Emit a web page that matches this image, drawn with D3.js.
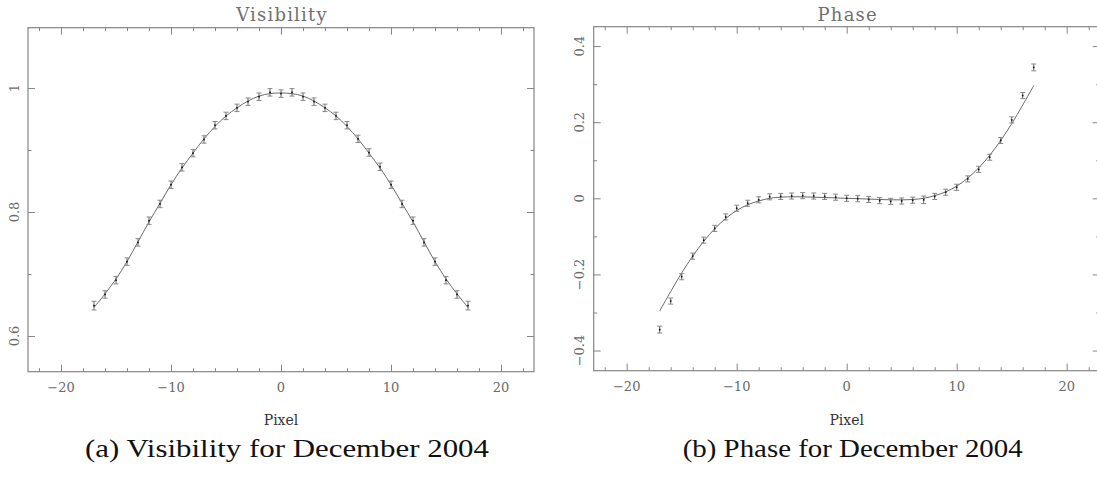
<!DOCTYPE html>
<html>
<head>
<meta charset="utf-8">
<script src="https://cdn.jsdelivr.net/npm/d3@7"></script>
<style>
  html, body { margin: 0; padding: 0; background: #fff; }
  svg { display: block; }
</style>
</head>
<body>
<svg id="chart" width="1097" height="480"></svg>
<script>
// ---------------- DATA ----------------
const pixels = [-17,-16,-15,-14,-13,-12,-11,-10,-9,-8,-7,-6,-5,-4,-3,-2,-1,0,1,2,3,4,5,6,7,8,9,10,11,12,13,14,15,16,17];

const visibility = [0.649,0.667,0.690,0.720,0.751,0.786,0.813,0.844,0.872,0.895,0.917,0.940,0.955,0.968,0.978,0.986,0.993,
                    0.991,0.993,0.986,0.978,0.968,0.955,0.940,0.918,0.896,0.873,0.844,0.813,0.786,0.751,0.720,0.690,0.667,0.649];
const visibilityErr = [0.007,0.006,0.006,0.006,0.006,0.006,0.006,0.006,0.006,0.006,0.006,0.006,0.006,0.006,0.006,0.006,0.006,
                       0.006,0.006,0.006,0.006,0.006,0.006,0.006,0.006,0.006,0.006,0.006,0.006,0.006,0.006,0.006,0.006,0.006,0.007];
const visibilityFit = [0.646,0.668,0.692,0.720,0.752,0.784,0.814,0.844,0.871,0.895,0.918,0.938,0.955,0.968,0.979,0.987,0.991,
                       0.992,0.991,0.987,0.979,0.968,0.955,0.938,0.918,0.895,0.871,0.844,0.814,0.784,0.752,0.720,0.692,0.668,0.646];

const phase = [-0.345,-0.270,-0.206,-0.152,-0.110,-0.079,-0.049,-0.026,-0.013,-0.004,0.004,0.005,0.006,0.007,0.006,0.005,0.003,
               0.000,-0.001,-0.003,-0.006,-0.008,-0.007,-0.005,-0.004,0.005,0.016,0.029,0.051,0.076,0.108,0.152,0.206,0.270,0.344];
const phaseErr = [0.009,0.008,0.008,0.008,0.008,0.008,0.008,0.008,0.008,0.008,0.008,0.008,0.008,0.008,0.008,0.008,0.008,
                  0.008,0.008,0.008,0.008,0.008,0.008,0.008,0.010,0.008,0.008,0.008,0.008,0.008,0.008,0.008,0.008,0.008,0.009];
const phaseFit = [-0.296,-0.245,-0.196,-0.152,-0.113,-0.080,-0.053,-0.032,-0.017,-0.007,0.000,0.003,0.004,0.004,0.003,0.002,0.001,
                  0.000,-0.001,-0.002,-0.003,-0.004,-0.004,-0.003,0.000,0.007,0.017,0.032,0.053,0.080,0.113,0.152,0.196,0.245,0.296];

const xMajor = [-20,-10,0,10,20];
const xMinor = [-22,-18,-16,-14,-12,-8,-6,-4,-2,2,4,6,8,12,14,16,18,22];
const visMajor = [0.6,0.8,1];
const visMinor = [0.7,0.9];
const phaseMajor = [-0.4,-0.2,0,0.2,0.4];
const phaseMinor = [-0.3,-0.1,0.1,0.3];

const titles = ["Visibility","Phase"];
const xLabel = "Pixel";
const captions = ["(a)  Visibility for December 2004","(b)  Phase for December 2004"];

// ---------------- DRAW ----------------
const svg = d3.select("#chart");
const fmt = v => {
  const s = (Math.abs(v) < 1e-9) ? "0" : String(+v.toFixed(2));
  return s.replace("-", "\u2212");
};

const panels = [
  { x0: 28, x1: 534, y0: 27.7, y1: 371.7, yDom: [0.5424, 1.0973],
    vals: visibility, err: visibilityErr, fit: visibilityFit,
    major: visMajor, minor: visMinor, yLabX: 14, title: titles[0], caption: captions[0], capW: 404 },
  { x0: 593.7, x1: 1099.7, y0: 26.7, y1: 370.7, yDom: [-0.453, 0.451],
    vals: phase, err: phaseErr, fit: phaseFit,
    major: phaseMajor, minor: phaseMinor, yLabX: 579, title: titles[1], caption: captions[1], capW: 340 }
];

const frameCol = "#858585";
const labCol = "#6a6a6a";

panels.forEach(p => {
  const x = d3.scaleLinear().domain([-23, 23]).range([p.x0, p.x1]);
  const y = d3.scaleLinear().domain(p.yDom).range([p.y1, p.y0]);
  const g = svg.append("g");

  const mk = (axisFn, scale, vals, size, tr) => {
    const a = g.append("g").attr("transform", tr)
      .call(axisFn(scale).tickValues(vals).tickSize(size).tickFormat(""));
    a.select(".domain").remove();
    a.selectAll("line").attr("stroke", frameCol).attr("stroke-width", 1);
    a.selectAll("text").remove();
  };
  mk(d3.axisBottom, x, xMajor, -7, `translate(0,${p.y1})`);
  mk(d3.axisBottom, x, xMinor, -3.5, `translate(0,${p.y1})`);
  mk(d3.axisTop, x, xMajor, -7, `translate(0,${p.y0})`);
  mk(d3.axisTop, x, xMinor, -3.5, `translate(0,${p.y0})`);
  mk(d3.axisLeft, y, p.major, -7, `translate(${p.x0},0)`);
  mk(d3.axisLeft, y, p.minor, -3.5, `translate(${p.x0},0)`);
  mk(d3.axisRight, y, p.major, -7, `translate(${p.x1},0)`);
  mk(d3.axisRight, y, p.minor, -3.5, `translate(${p.x1},0)`);

  g.append("rect")
    .attr("x", p.x0).attr("y", p.y0)
    .attr("width", p.x1 - p.x0).attr("height", p.y1 - p.y0)
    .attr("fill", "none").attr("stroke", frameCol).attr("stroke-width", 1.2);

  g.selectAll(".xl").data(xMajor).enter().append("text")
    .attr("x", d => x(d)).attr("y", p.y1 + 20)
    .attr("text-anchor", "middle")
    .attr("font-family", "DejaVu Serif").attr("font-size", 13)
    .attr("fill", labCol)
    .text(fmt);

  g.selectAll(".yl").data(p.major).enter().append("text")
    .attr("transform", d => `translate(${p.yLabX + 5},${y(d)}) rotate(-90)`)
    .attr("text-anchor", "middle")
    .attr("font-family", "DejaVu Serif").attr("font-size", 13)
    .attr("fill", labCol)
    .text(fmt);

  g.append("text")
    .attr("x", x(0) + 1).attr("y", 21)
    .attr("text-anchor", "middle")
    .attr("font-family", "DejaVu Serif").attr("font-size", 18)
    .attr("letter-spacing", 1.2)
    .attr("fill", "#707070")
    .text(p.title);

  g.append("text")
    .attr("x", x(0)).attr("y", 425)
    .attr("text-anchor", "middle")
    .attr("font-family", "DejaVu Serif").attr("font-size", 14)
    .attr("fill", "#333")
    .text(xLabel);

  g.append("text")
    .attr("x", x(0) + 6).attr("y", 457)
    .attr("text-anchor", "middle")
    .attr("font-family", "Liberation Serif").attr("font-size", 26)
    .attr("fill", "#111")
    .attr("textLength", p.capW).attr("lengthAdjust", "spacingAndGlyphs")
    .text(p.caption);

  const line = d3.line().x((d, i) => x(pixels[i])).y(d => y(d)).curve(d3.curveCatmullRom);
  g.append("path").datum(p.fit)
    .attr("d", line).attr("fill", "none")
    .attr("stroke", "#6a6a6a").attr("stroke-width", 1);

  const eb = g.selectAll(".eb").data(p.vals).enter().append("g");
  eb.append("line")
    .attr("x1", (d, i) => x(pixels[i])).attr("x2", (d, i) => x(pixels[i]))
    .attr("y1", (d, i) => y(d - p.err[i])).attr("y2", (d, i) => y(d + p.err[i]))
    .attr("stroke", "#666").attr("stroke-width", 1);
  eb.append("line")
    .attr("x1", (d, i) => x(pixels[i]) - 2.5).attr("x2", (d, i) => x(pixels[i]) + 2.5)
    .attr("y1", (d, i) => y(d - p.err[i])).attr("y2", (d, i) => y(d - p.err[i]))
    .attr("stroke", "#888").attr("stroke-width", 1);
  eb.append("line")
    .attr("x1", (d, i) => x(pixels[i]) - 2.5).attr("x2", (d, i) => x(pixels[i]) + 2.5)
    .attr("y1", (d, i) => y(d + p.err[i])).attr("y2", (d, i) => y(d + p.err[i]))
    .attr("stroke", "#888").attr("stroke-width", 1);
  eb.append("rect")
    .attr("x", (d, i) => x(pixels[i]) - 0.8).attr("y", d => y(d) - 0.8)
    .attr("width", 1.6).attr("height", 1.6)
    .attr("fill", "#111");
});
</script>
</body>
</html>
